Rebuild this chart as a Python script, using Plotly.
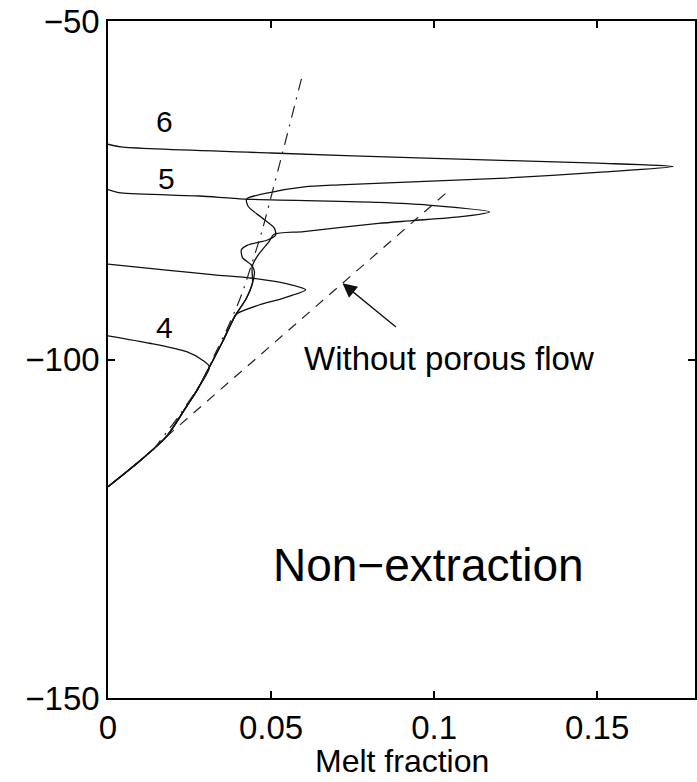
import plotly.graph_objects as go

# ---- data (melt fraction, depth) ----
lower_x = [0.0443, 0.0424, 0.0388, 0.0355, 0.0322, 0.0276, 0.0240, 0.0179, 0.0090, 0.0]
lower_y = [-88.7, -91.0, -93.7, -97.0, -100.1, -104.3, -107.0, -111.4, -115.3, -118.8]

c6_x = [0.0, 0.004, 0.05, 0.10, 0.15, 0.1733, 0.1524, 0.1219, 0.0709, 0.0602, 0.0500,
        0.0425, 0.0430, 0.0470, 0.0510, 0.0514, 0.0489, 0.0428, 0.0409, 0.0413, 0.0439, 0.0449]
c6_y = [-68.2, -68.6, -69.5, -70.3, -71.0, -71.5, -72.3, -73.2, -74.2, -74.5, -75.3,
        -76.3, -77.4, -79.0, -80.6, -81.6, -82.35, -83.1, -83.8, -85.0, -86.0, -87.0]

c5_x = [0.0, 0.004, 0.028, 0.0418, 0.0829, 0.0982, 0.117, 0.1083, 0.0931, 0.0829,
        0.060, 0.0509, 0.0495, 0.0457, 0.0442]
c5_y = [-74.9, -75.4, -75.85, -76.3, -76.8, -77.2, -78.2, -78.9, -79.5, -79.9,
        -81.1, -81.5, -82.5, -84.8, -86.3]

cb_x = [0.0, 0.0179, 0.0326, 0.0443, 0.0565, 0.0606, 0.0534, 0.0463, 0.0397]
cb_y = [-85.9, -86.8, -87.5, -88.0, -89.0, -89.7, -91.0, -91.95, -93.2]

c4_x = [0.0, 0.0128, 0.0241, 0.0290, 0.0311]
c4_y = [-96.5, -97.6, -98.85, -100.1, -101.1]

dashdot_x = [0.0138, 0.0215, 0.0285, 0.0325, 0.0365, 0.0395, 0.0415, 0.0448, 0.0473, 0.0535, 0.0595]
dashdot_y = [-113.4, -108.5, -103.5, -99.5, -95.5, -92.2, -89.7, -84.8, -80.9, -69.5, -58.2]

noflow_x = [0.0179, 0.1037]
noflow_y = [-111.4, -75.4]

labels = ["6", "5", "4"]
label_x = [0.0174, 0.0180, 0.0174]
label_y = [-64.9, -73.2, -95.2]

x_ticks = [0, 0.05, 0.1, 0.15]
x_ticktext = ["0", "0.05", "0.1", "0.15"]
y_ticks = [-150, -100, -50]
y_ticktext = ["\u2212150", "\u2212100", "\u221250"]

FONT = "Liberation Sans, Arial, Helvetica, sans-serif"

def join_lower(xs, ys, y_start):
    # append the shared lower branch below y_start
    ox, oy = list(xs), list(ys)
    for lx, ly in zip(lower_x, lower_y):
        if ly < y_start:
            ox.append(lx)
            oy.append(ly)
    return ox, oy

fig = go.Figure()
line = dict(color="#111111", width=1.3, shape="spline", smoothing=0.7)

for xs, ys in [(c6_x, c6_y), (c5_x, c5_y), (cb_x, cb_y), (c4_x, c4_y)]:
    fx, fy = join_lower(xs, ys, ys[-1])
    fig.add_trace(go.Scatter(x=fx, y=fy, mode="lines", line=line, showlegend=False,
                             hoverinfo="skip"))

fig.add_trace(go.Scatter(x=dashdot_x, y=dashdot_y, mode="lines",
                         line=dict(color="#222222", width=1.2, dash="12px,7px,2px,7px",
                                   shape="spline", smoothing=0.5),
                         showlegend=False, hoverinfo="skip"))
fig.add_trace(go.Scatter(x=noflow_x, y=noflow_y, mode="lines",
                         line=dict(color="#222222", width=1.2, dash="10px,8px"),
                         showlegend=False, hoverinfo="skip"))

for t, lx, ly in zip(labels, label_x, label_y):
    fig.add_annotation(x=lx, y=ly, text=t, showarrow=False,
                       font=dict(family=FONT, size=30, color="black"))

fig.add_annotation(x=0.0719, y=-88.74, ax=55, ay=45, text="", showarrow=True,
                   arrowhead=2, arrowsize=2.2, arrowwidth=1.3, arrowcolor="#111111")
fig.add_annotation(x=0.1045, y=-99.8, text="Without porous flow", showarrow=False,
                   font=dict(family=FONT, size=33, color="black"))
fig.add_annotation(x=0.0984, y=-130.4, text="Non\u2212extraction", showarrow=False,
                   font=dict(family=FONT, size=46, color="black"))
fig.add_annotation(x=0.5, y=-0.0935, xref="paper", yref="paper", text="Melt fraction",
                   showarrow=False, yanchor="middle",
                   font=dict(family=FONT, size=32, color="black"))

axis_common = dict(showline=True, linecolor="black", linewidth=1.5, mirror="ticks",
                   ticks="inside", ticklen=7, tickwidth=1.5, tickcolor="black",
                   showgrid=False, zeroline=False,
                   tickfont=dict(family=FONT, size=33, color="black"))

fig.update_xaxes(range=[0, 0.18], tickvals=x_ticks, ticktext=x_ticktext, **axis_common)
fig.update_yaxes(range=[-150, -50], tickvals=y_ticks, ticktext=y_ticktext, **axis_common)

fig.update_layout(width=697, height=782, margin=dict(l=108, r=0, t=21, b=84),
                  paper_bgcolor="white", plot_bgcolor="white",
                  font=dict(family=FONT, color="black"))

fig.write_html("out.html")
